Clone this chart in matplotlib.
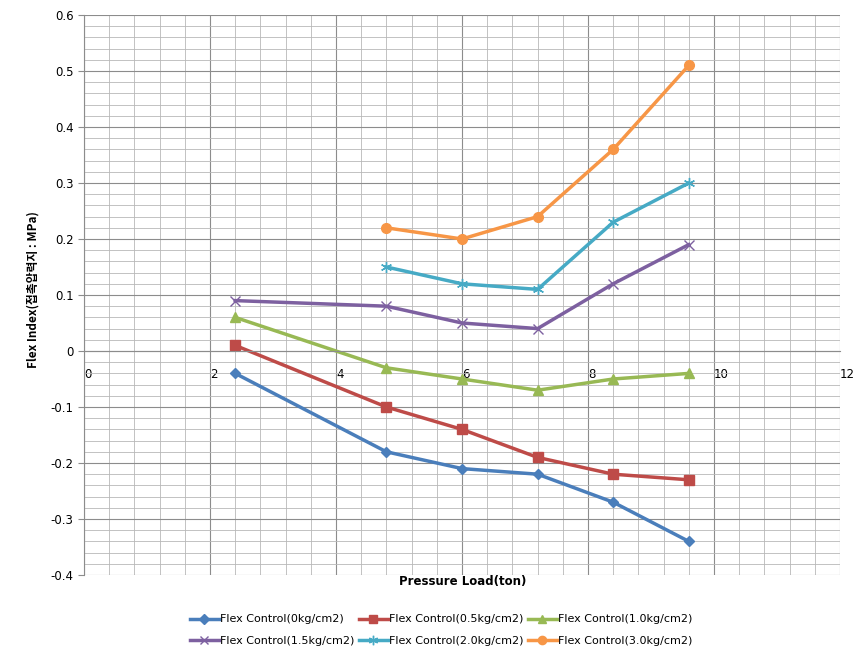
import numpy as np
import matplotlib.pyplot as plt
from matplotlib.ticker import MultipleLocator

plt.rcParams['font.family'] = ['DejaVu Sans', 'Noto Sans CJK KR']

load = [2.4, 4.8, 6.0, 7.2, 8.4, 9.6]
load_hi = [4.8, 6.0, 7.2, 8.4, 9.6]

flex_0 = [-0.04, -0.18, -0.21, -0.22, -0.27, -0.34]
flex_05 = [0.01, -0.10, -0.14, -0.19, -0.22, -0.23]
flex_10 = [0.06, -0.03, -0.05, -0.07, -0.05, -0.04]
flex_15 = [0.09, 0.08, 0.05, 0.04, 0.12, 0.19]
flex_20 = [0.15, 0.12, 0.11, 0.23, 0.30]
flex_30 = [0.22, 0.20, 0.24, 0.36, 0.51]

labels = ['Flex Control(0kg/cm2)', 'Flex Control(0.5kg/cm2)', 'Flex Control(1.0kg/cm2)',
          'Flex Control(1.5kg/cm2)', 'Flex Control(2.0kg/cm2)', 'Flex Control(3.0kg/cm2)']

fig = plt.figure(figsize=(8.67, 6.63), dpi=100)
ax = fig.add_axes([84 / 867, 1 - 575 / 663, 756 / 867, 560 / 663])

ax.set_xlim(0, 12)
ax.set_ylim(-0.4, 0.6)
ax.xaxis.set_major_locator(MultipleLocator(2))
ax.xaxis.set_minor_locator(MultipleLocator(0.4))
ax.yaxis.set_major_locator(MultipleLocator(0.1))
ax.yaxis.set_minor_locator(MultipleLocator(0.02))
ax.grid(which='major', color='#8c8c8c', lw=0.8)
ax.grid(which='minor', color='#b8b8b8', lw=0.6)
ax.set_axisbelow(True)

for s in ['top', 'right']:
    ax.spines[s].set_visible(False)
ax.spines['bottom'].set_position(('data', 0))
ax.spines['bottom'].set_color('#8c8c8c')
ax.spines['left'].set_color('#8c8c8c')
ax.tick_params(axis='x', which='both', length=0, labelsize=8.5, pad=12)
ax.tick_params(axis='y', which='major', length=4, labelsize=8.5, color='#8c8c8c')
ax.tick_params(axis='y', which='minor', length=0)
ax.set_yticks(np.round(np.arange(-0.4, 0.61, 0.1), 1))
ax.set_yticklabels(['-0.4', '-0.3', '-0.2', '-0.1', '0', '0.1', '0.2', '0.3', '0.4', '0.5', '0.6'])
ax.set_xticks(range(0, 13, 2))
ax.set_xticklabels([str(v) for v in range(0, 13, 2)])
for t in ax.get_xticklabels():
    t.set_horizontalalignment('left')

lw = 2.5
lines = []
lines += ax.plot(load, flex_0, color='#4A7EBB', marker='D', ms=5.5, lw=lw, label=labels[0])
lines += ax.plot(load, flex_05, color='#BE4B48', marker='s', ms=7, lw=lw, label=labels[1])
lines += ax.plot(load, flex_10, color='#98B954', marker='^', ms=7.5, lw=lw, label=labels[2])
lines += ax.plot(load, flex_15, color='#7D60A0', marker='x', ms=7, mew=1.0, lw=lw, label=labels[3])
lines += ax.plot(load_hi, flex_20, color='#46AAC5', marker=(6, 2, 0), ms=8, mew=1.0, lw=lw, label=labels[4])
lines += ax.plot(load_hi, flex_30, color='#F79646', marker='o', ms=7, lw=lw, label=labels[5])

fig.text(463 / 867, 1 - 581 / 663, 'Pressure Load(ton)', ha='center', va='center',
         fontsize=8.5, fontweight='bold')
fig.text(33 / 867, 1 - 290 / 663, 'Flex Index(접촉압력지 : MPa)', ha='center', va='center',
         rotation=90, fontsize=8.5, fontweight='bold',
         family=['Noto Sans CJK KR', 'DejaVu Sans'])

order = [0, 3, 1, 4, 2, 5]
fig.legend([lines[i] for i in order], [labels[i] for i in order], loc='center',
           bbox_to_anchor=(441 / 867, 1 - 630 / 663), ncol=3, frameon=False,
           fontsize=8, handlelength=2.6, columnspacing=0.4, handletextpad=0.1,
           labelspacing=1.0, markerscale=0.85)

fig.savefig('out.png', dpi=100)
